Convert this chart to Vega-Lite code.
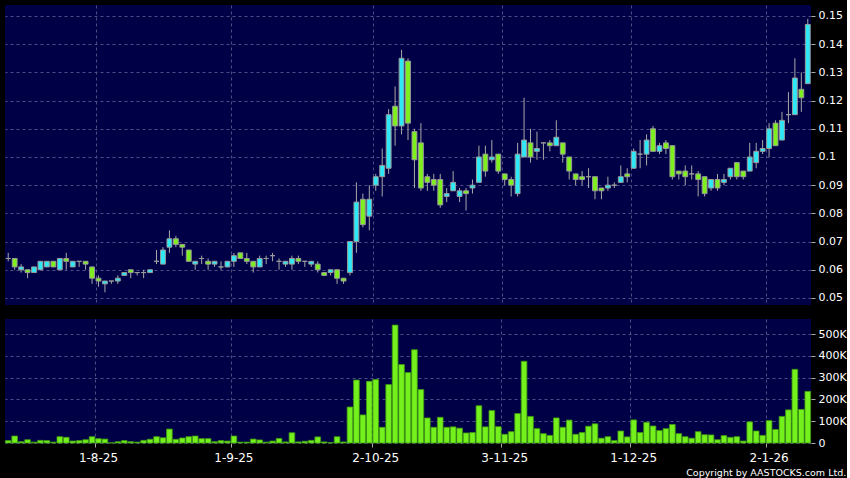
{
  "$schema": "https://vega.github.io/schema/vega-lite/v6.json",
  "background": "#000000",
  "padding": {"left": 4, "top": 5, "right": 0, "bottom": 0},
  "spacing": 14,
  "config": {
    "view": {"fill": "#000046", "stroke": null},
    "axis": {"titleFont": "DejaVu Sans", "labelFont": "DejaVu Sans", "labelOverlap": false, "labelBound": false, "labelFlush": false}
  },
  "title": {"text": "Copyright by AASTOCKS.com Ltd.", "orient": "bottom", "anchor": "end", "color": "#ffffff", "fontSize": 9.5, "font": "DejaVu Sans", "fontWeight": "normal", "offset": 5},
  "datasets": {
    "p": [
      {"d":"2025-07-14","o":0.064,"h":0.066,"l":0.063,"c":0.064,"v":11000},
      {"d":"2025-07-15","o":0.064,"h":0.064,"l":0.060,"c":0.061,"v":32000},
      {"d":"2025-07-16","o":0.060,"h":0.062,"l":0.059,"c":0.061,"v":6000},
      {"d":"2025-07-17","o":0.060,"h":0.060,"l":0.057,"c":0.059,"v":15000},
      {"d":"2025-07-18","o":0.059,"h":0.061,"l":0.059,"c":0.061,"v":4000},
      {"d":"2025-07-21","o":0.060,"h":0.063,"l":0.060,"c":0.063,"v":12000},
      {"d":"2025-07-22","o":0.061,"h":0.063,"l":0.061,"c":0.063,"v":11000},
      {"d":"2025-07-23","o":0.063,"h":0.063,"l":0.061,"c":0.061,"v":4000},
      {"d":"2025-07-24","o":0.060,"h":0.064,"l":0.060,"c":0.064,"v":29000},
      {"d":"2025-07-25","o":0.064,"h":0.066,"l":0.060,"c":0.063,"v":26000},
      {"d":"2025-07-28","o":0.061,"h":0.063,"l":0.061,"c":0.063,"v":9000},
      {"d":"2025-07-29","o":0.063,"h":0.063,"l":0.061,"c":0.063,"v":11000},
      {"d":"2025-07-30","o":0.063,"h":0.063,"l":0.060,"c":0.062,"v":15000},
      {"d":"2025-07-31","o":0.061,"h":0.061,"l":0.055,"c":0.057,"v":29000},
      {"d":"2025-08-01","o":0.057,"h":0.058,"l":0.054,"c":0.056,"v":20000},
      {"d":"2025-08-04","o":0.055,"h":0.056,"l":0.052,"c":0.056,"v":18000},
      {"d":"2025-08-05","o":0.056,"h":0.056,"l":0.055,"c":0.056,"v":1000},
      {"d":"2025-08-06","o":0.056,"h":0.058,"l":0.055,"c":0.057,"v":6000},
      {"d":"2025-08-07","o":0.058,"h":0.059,"l":0.058,"c":0.059,"v":11000},
      {"d":"2025-08-08","o":0.060,"h":0.060,"l":0.057,"c":0.059,"v":6000},
      {"d":"2025-08-11","o":0.059,"h":0.059,"l":0.058,"c":0.059,"v":4000},
      {"d":"2025-08-12","o":0.059,"h":0.060,"l":0.057,"c":0.059,"v":12000},
      {"d":"2025-08-13","o":0.059,"h":0.060,"l":0.059,"c":0.060,"v":17000},
      {"d":"2025-08-14","o":0.063,"h":0.067,"l":0.062,"c":0.063,"v":29000},
      {"d":"2025-08-15","o":0.062,"h":0.068,"l":0.062,"c":0.067,"v":24000},
      {"d":"2025-08-18","o":0.068,"h":0.074,"l":0.066,"c":0.071,"v":64000},
      {"d":"2025-08-19","o":0.071,"h":0.072,"l":0.068,"c":0.069,"v":17000},
      {"d":"2025-08-20","o":0.069,"h":0.069,"l":0.065,"c":0.068,"v":23000},
      {"d":"2025-08-21","o":0.067,"h":0.067,"l":0.063,"c":0.063,"v":29000},
      {"d":"2025-08-22","o":0.062,"h":0.063,"l":0.060,"c":0.063,"v":32000},
      {"d":"2025-08-25","o":0.064,"h":0.065,"l":0.062,"c":0.064,"v":20000},
      {"d":"2025-08-26","o":0.063,"h":0.064,"l":0.060,"c":0.062,"v":20000},
      {"d":"2025-08-27","o":0.062,"h":0.063,"l":0.061,"c":0.063,"v":6000},
      {"d":"2025-08-28","o":0.061,"h":0.063,"l":0.060,"c":0.061,"v":11000},
      {"d":"2025-08-29","o":0.061,"h":0.063,"l":0.061,"c":0.063,"v":9000},
      {"d":"2025-09-01","o":0.063,"h":0.066,"l":0.061,"c":0.065,"v":32000},
      {"d":"2025-09-02","o":0.066,"h":0.066,"l":0.064,"c":0.064,"v":4000},
      {"d":"2025-09-03","o":0.064,"h":0.066,"l":0.062,"c":0.063,"v":4000},
      {"d":"2025-09-04","o":0.063,"h":0.063,"l":0.059,"c":0.061,"v":18000},
      {"d":"2025-09-05","o":0.061,"h":0.065,"l":0.061,"c":0.064,"v":14000},
      {"d":"2025-09-08","o":0.064,"h":0.065,"l":0.062,"c":0.064,"v":4000},
      {"d":"2025-09-09","o":0.065,"h":0.066,"l":0.063,"c":0.065,"v":9000},
      {"d":"2025-09-10","o":0.063,"h":0.064,"l":0.060,"c":0.063,"v":21000},
      {"d":"2025-09-11","o":0.062,"h":0.063,"l":0.061,"c":0.063,"v":5000},
      {"d":"2025-09-12","o":0.062,"h":0.065,"l":0.060,"c":0.064,"v":47000},
      {"d":"2025-09-15","o":0.064,"h":0.065,"l":0.062,"c":0.063,"v":5000},
      {"d":"2025-09-16","o":0.063,"h":0.063,"l":0.061,"c":0.063,"v":8000},
      {"d":"2025-09-17","o":0.062,"h":0.063,"l":0.061,"c":0.063,"v":12000},
      {"d":"2025-09-18","o":0.062,"h":0.063,"l":0.059,"c":0.060,"v":28000},
      {"d":"2025-09-19","o":0.059,"h":0.059,"l":0.058,"c":0.058,"v":5000},
      {"d":"2025-09-22","o":0.059,"h":0.060,"l":0.058,"c":0.060,"v":2000},
      {"d":"2025-09-23","o":0.060,"h":0.060,"l":0.055,"c":0.057,"v":29000},
      {"d":"2025-09-24","o":0.057,"h":0.057,"l":0.055,"c":0.056,"v":5000},
      {"d":"2025-09-25","o":0.059,"h":0.070,"l":0.058,"c":0.070,"v":165000},
      {"d":"2025-09-26","o":0.070,"h":0.091,"l":0.066,"c":0.084,"v":289000},
      {"d":"2025-09-29","o":0.085,"h":0.087,"l":0.075,"c":0.076,"v":129000},
      {"d":"2025-09-30","o":0.079,"h":0.090,"l":0.074,"c":0.085,"v":283000},
      {"d":"2025-10-02","o":0.090,"h":0.094,"l":0.088,"c":0.093,"v":291000},
      {"d":"2025-10-03","o":0.093,"h":0.103,"l":0.086,"c":0.097,"v":72000},
      {"d":"2025-10-06","o":0.096,"h":0.117,"l":0.094,"c":0.115,"v":268000},
      {"d":"2025-10-08","o":0.118,"h":0.125,"l":0.104,"c":0.111,"v":541000},
      {"d":"2025-10-09","o":0.111,"h":0.138,"l":0.108,"c":0.135,"v":360000},
      {"d":"2025-10-10","o":0.134,"h":0.135,"l":0.106,"c":0.112,"v":323000},
      {"d":"2025-10-13","o":0.109,"h":0.110,"l":0.089,"c":0.099,"v":428000},
      {"d":"2025-10-14","o":0.105,"h":0.112,"l":0.088,"c":0.089,"v":245000},
      {"d":"2025-10-15","o":0.093,"h":0.094,"l":0.088,"c":0.091,"v":115000},
      {"d":"2025-10-16","o":0.092,"h":0.094,"l":0.088,"c":0.090,"v":72000},
      {"d":"2025-10-17","o":0.092,"h":0.094,"l":0.082,"c":0.083,"v":118000},
      {"d":"2025-10-20","o":0.086,"h":0.089,"l":0.084,"c":0.087,"v":72000},
      {"d":"2025-10-21","o":0.088,"h":0.095,"l":0.088,"c":0.091,"v":74000},
      {"d":"2025-10-22","o":0.086,"h":0.089,"l":0.084,"c":0.088,"v":68000},
      {"d":"2025-10-23","o":0.088,"h":0.089,"l":0.081,"c":0.087,"v":46000},
      {"d":"2025-10-24","o":0.089,"h":0.092,"l":0.087,"c":0.090,"v":48000},
      {"d":"2025-10-27","o":0.091,"h":0.104,"l":0.091,"c":0.100,"v":171000},
      {"d":"2025-10-28","o":0.101,"h":0.104,"l":0.093,"c":0.095,"v":74000},
      {"d":"2025-10-30","o":0.099,"h":0.106,"l":0.098,"c":0.100,"v":149000},
      {"d":"2025-10-31","o":0.101,"h":0.101,"l":0.094,"c":0.095,"v":75000},
      {"d":"2025-11-03","o":0.094,"h":0.094,"l":0.090,"c":0.092,"v":40000},
      {"d":"2025-11-04","o":0.092,"h":0.093,"l":0.086,"c":0.090,"v":52000},
      {"d":"2025-11-05","o":0.087,"h":0.105,"l":0.086,"c":0.101,"v":135000},
      {"d":"2025-11-06","o":0.100,"h":0.121,"l":0.100,"c":0.106,"v":375000},
      {"d":"2025-11-07","o":0.105,"h":0.110,"l":0.098,"c":0.100,"v":122000},
      {"d":"2025-11-10","o":0.102,"h":0.109,"l":0.099,"c":0.103,"v":66000},
      {"d":"2025-11-11","o":0.105,"h":0.105,"l":0.099,"c":0.105,"v":43000},
      {"d":"2025-11-12","o":0.105,"h":0.106,"l":0.102,"c":0.104,"v":35000},
      {"d":"2025-11-13","o":0.104,"h":0.113,"l":0.104,"c":0.107,"v":115000},
      {"d":"2025-11-14","o":0.105,"h":0.105,"l":0.098,"c":0.101,"v":72000},
      {"d":"2025-11-17","o":0.100,"h":0.100,"l":0.092,"c":0.095,"v":105000},
      {"d":"2025-11-18","o":0.094,"h":0.094,"l":0.090,"c":0.092,"v":40000},
      {"d":"2025-11-19","o":0.093,"h":0.095,"l":0.090,"c":0.092,"v":48000},
      {"d":"2025-11-20","o":0.093,"h":0.096,"l":0.089,"c":0.093,"v":77000},
      {"d":"2025-11-21","o":0.093,"h":0.093,"l":0.085,"c":0.088,"v":88000},
      {"d":"2025-11-24","o":0.089,"h":0.089,"l":0.085,"c":0.088,"v":22000},
      {"d":"2025-11-25","o":0.089,"h":0.093,"l":0.088,"c":0.090,"v":29000},
      {"d":"2025-11-26","o":0.090,"h":0.091,"l":0.089,"c":0.090,"v":11000},
      {"d":"2025-11-27","o":0.091,"h":0.097,"l":0.091,"c":0.093,"v":55000},
      {"d":"2025-11-28","o":0.094,"h":0.096,"l":0.091,"c":0.093,"v":28000},
      {"d":"2025-12-01","o":0.096,"h":0.103,"l":0.096,"c":0.102,"v":106000},
      {"d":"2025-12-02","o":0.101,"h":0.106,"l":0.096,"c":0.101,"v":48000},
      {"d":"2025-12-03","o":0.101,"h":0.108,"l":0.097,"c":0.106,"v":95000},
      {"d":"2025-12-04","o":0.110,"h":0.111,"l":0.102,"c":0.102,"v":78000},
      {"d":"2025-12-05","o":0.102,"h":0.105,"l":0.101,"c":0.104,"v":57000},
      {"d":"2025-12-08","o":0.105,"h":0.106,"l":0.101,"c":0.103,"v":66000},
      {"d":"2025-12-09","o":0.104,"h":0.104,"l":0.092,"c":0.093,"v":85000},
      {"d":"2025-12-10","o":0.095,"h":0.095,"l":0.092,"c":0.094,"v":43000},
      {"d":"2025-12-11","o":0.095,"h":0.097,"l":0.090,"c":0.093,"v":29000},
      {"d":"2025-12-12","o":0.094,"h":0.097,"l":0.092,"c":0.094,"v":22000},
      {"d":"2025-12-15","o":0.094,"h":0.095,"l":0.086,"c":0.092,"v":52000},
      {"d":"2025-12-16","o":0.093,"h":0.093,"l":0.086,"c":0.087,"v":38000},
      {"d":"2025-12-17","o":0.089,"h":0.092,"l":0.088,"c":0.092,"v":37000},
      {"d":"2025-12-18","o":0.092,"h":0.094,"l":0.088,"c":0.089,"v":15000},
      {"d":"2025-12-19","o":0.091,"h":0.094,"l":0.090,"c":0.092,"v":34000},
      {"d":"2025-12-22","o":0.093,"h":0.096,"l":0.092,"c":0.096,"v":26000},
      {"d":"2025-12-23","o":0.098,"h":0.098,"l":0.092,"c":0.093,"v":29000},
      {"d":"2025-12-24","o":0.095,"h":0.095,"l":0.092,"c":0.093,"v":9000},
      {"d":"2025-12-29","o":0.095,"h":0.105,"l":0.095,"c":0.100,"v":97000},
      {"d":"2025-12-30","o":0.098,"h":0.105,"l":0.096,"c":0.102,"v":55000},
      {"d":"2025-12-31","o":0.102,"h":0.106,"l":0.101,"c":0.103,"v":35000},
      {"d":"2026-01-02","o":0.103,"h":0.112,"l":0.100,"c":0.110,"v":103000},
      {"d":"2026-01-05","o":0.112,"h":0.113,"l":0.104,"c":0.104,"v":62000},
      {"d":"2026-01-06","o":0.106,"h":0.116,"l":0.106,"c":0.113,"v":122000},
      {"d":"2026-01-07","o":0.115,"h":0.123,"l":0.112,"c":0.115,"v":152000},
      {"d":"2026-01-08","o":0.115,"h":0.135,"l":0.115,"c":0.128,"v":338000},
      {"d":"2026-01-09","o":0.124,"h":0.130,"l":0.116,"c":0.121,"v":154000},
      {"d":"2026-01-12","o":0.126,"h":0.149,"l":0.126,"c":0.147,"v":237000}
    ]
  },
  "vconcat": [
    {
      "width": 806,
      "height": 300,
      "data": {"name": "p"},
      "encoding": {
        "x": {
          "field": "d", "type": "ordinal",
          "scale": {"paddingInner": 0.25, "paddingOuter": 0.125},
          "axis": {
            "values": ["2025-08-01","2025-09-01","2025-10-02","2025-11-03","2025-12-01","2026-01-02"],
            "bandPosition": 0, "labels": false, "ticks": false, "domain": false, "title": null,
            "grid": true, "gridDash": [3, 3], "gridColor": "#4d4d85", "gridWidth": 1
          }
        },
        "y": {
          "field": "l", "type": "quantitative",
          "scale": {"domain": [0.0475, 0.1539], "nice": false, "zero": false},
          "axis": {
            "orient": "right", "title": null,
            "values": [0.05, 0.06, 0.07, 0.08, 0.09, 0.1, 0.11, 0.12, 0.13, 0.14, 0.15],
            "labelExpr": "format(datum.value, '.2~f')",
            "labelOverlap": false,
            "grid": true, "gridDash": [3, 3], "gridColor": "#4d4d85",
            "domain": false, "tickColor": "#aaaaaa", "tickSize": 4,
            "labelColor": "#ffffff", "labelFontSize": 11, "labelPadding": 3
          }
        }
      },
      "layer": [
        {
          "mark": {"type": "rule", "color": "#a8a8a8", "strokeWidth": 1},
          "encoding": {
            "y2": {"field": "h"}
          }
        },
        {
          "mark": {"type": "bar", "stroke": "#9a9a9a", "strokeWidth": 1},
          "encoding": {
            "y": {"field": "o", "type": "quantitative"},
            "y2": {"field": "c"},
            "color": {"condition": {"test": "datum.c >= datum.o", "value": "#2ee8f6"}, "value": "#7ef01e"}
          }
        }
      ]
    },
    {
      "width": 806,
      "height": 124,
      "data": {"name": "p"},
      "mark": {"type": "bar", "color": "#74f01c", "stroke": "#3f9a10", "strokeWidth": 0.8},
      "encoding": {
        "x": {
          "field": "d", "type": "ordinal",
          "scale": {"paddingInner": 0.12, "paddingOuter": 0.06},
          "axis": {
            "values": ["2025-08-01","2025-09-01","2025-10-02","2025-11-03","2025-12-01","2026-01-02"],
            "bandPosition": 0, "title": null, "labelAngle": 0,
            "labelExpr": "utcFormat(toDate(datum.value), '%-d-%-m-%y')",
            "labelColor": "#ffffff", "labelFontSize": 12, "labelPadding": 5,
            "tickColor": "#aaaaaa", "tickSize": 4, "domain": false,
            "grid": true, "gridDash": [3, 3], "gridColor": "#4d4d85"
          }
        },
        "y": {
          "field": "v", "type": "quantitative",
          "scale": {"domain": [0, 569000], "nice": false},
          "axis": {
            "orient": "right", "title": null,
            "values": [0, 100000, 200000, 300000, 400000, 500000],
            "labelExpr": "datum.value == 0 ? '0' : (datum.value / 1000) + 'K'",
            "labelOverlap": false,
            "grid": true, "gridDash": [3, 3], "gridColor": "#4d4d85",
            "domain": false, "tickColor": "#aaaaaa", "tickSize": 4,
            "labelColor": "#ffffff", "labelFontSize": 11, "labelPadding": 3
          }
        }
      }
    }
  ]
}
